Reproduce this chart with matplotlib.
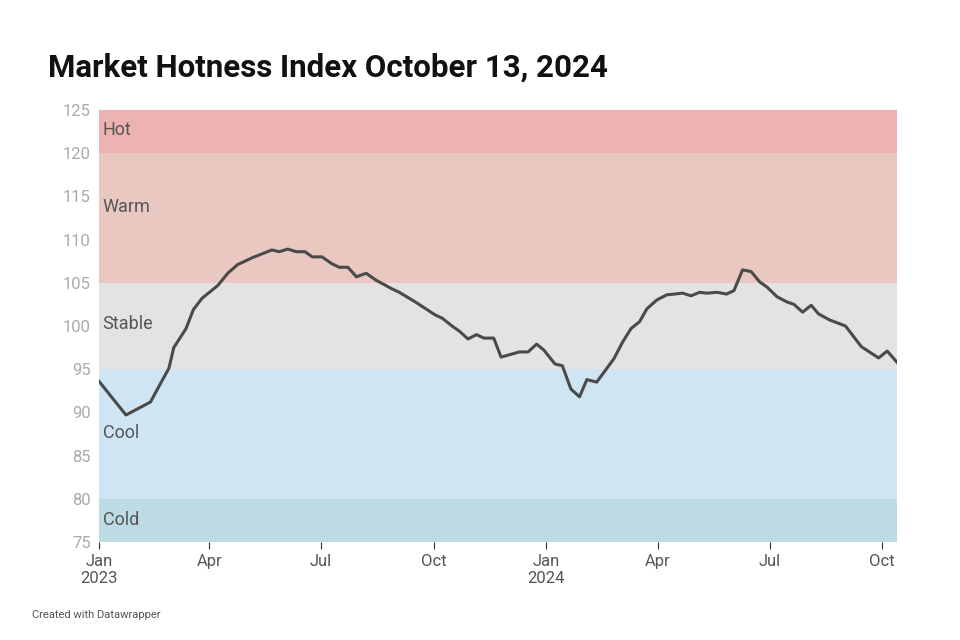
import matplotlib
matplotlib.use("Agg")
import matplotlib.pyplot as plt
import numpy as np

plt.rcParams["font.family"] = "Roboto"

# days since 2023-01-01 and index values
days = [0, 22, 42, 50, 57, 61, 71, 77, 84, 97, 105, 113, 125, 141, 147, 154, 161, 168,
        174, 182, 190, 196, 203, 210, 218, 226, 239, 245, 259, 274, 280, 288, 294, 301,
        308, 314, 322, 328, 343, 350, 357, 363, 372, 378, 385, 392, 398, 406, 420, 427,
        434, 441, 447, 455, 463, 476, 483, 490, 496, 504, 512, 518, 525, 532, 539, 545,
        553, 561, 567, 574, 581, 587, 596, 609, 616, 622, 636, 643, 651]
index = [93.6, 89.7, 91.2, 93.3, 95.1, 97.5, 99.7, 101.9, 103.2, 104.7, 106.1, 107.1,
         107.9, 108.8, 108.6, 108.9, 108.6, 108.6, 108.0, 108.0, 107.2, 106.8, 106.8,
         105.7, 106.1, 105.3, 104.3, 103.9, 102.7, 101.3, 100.9, 100.0, 99.4, 98.5, 99.0,
         98.6, 98.6, 96.4, 97.0, 97.0, 97.9, 97.2, 95.6, 95.4, 92.7, 91.8, 93.8, 93.5,
         96.2, 98.1, 99.7, 100.5, 102.0, 103.0, 103.6, 103.8, 103.5, 103.9, 103.8, 103.9,
         103.7, 104.1, 106.5, 106.3, 105.1, 104.5, 103.4, 102.8, 102.5, 101.6, 102.4,
         101.4, 100.7, 100.0, 98.7, 97.6, 96.3, 97.1, 95.8]

bands = [("Cold", 75, 80, "#bcdbe3"), ("Cool", 80, 95, "#cfe5f3"),
         ("Stable", 95, 105, "#e3e3e3"), ("Warm", 105, 120, "#e9c8c1"),
         ("Hot", 120, 125, "#ecb3b2")]
label_y = {"Cold": 77.5, "Cool": 87.6, "Stable": 100.2, "Warm": 113.8, "Hot": 122.7}

tick_labels = ["Jan\n2023", "Apr", "Jul", "Oct", "Jan\n2024", "Apr", "Jul", "Oct"]
tick_dates = ["2023-01-01", "2023-04-01", "2023-07-01", "2023-10-01",
              "2024-01-01", "2024-04-01", "2024-07-01", "2024-10-01"]

start = np.datetime64("2023-01-01")
dates = start + np.array(days).astype("timedelta64[D]")
x_end = np.datetime64("2024-10-13")

fig = plt.figure(figsize=(9.6, 6.4), dpi=100)
ax = fig.add_axes([99 / 960, 1 - 542 / 640, 798 / 960, 432 / 640])

for name, lo, hi, col in bands:
    ax.axhspan(lo, hi, color=col, lw=0, zorder=0)
    ax.text(start + np.timedelta64(3, "D"), label_y[name], name, fontsize=13,
            color="#555555", va="center", ha="left", zorder=2)

ax.plot(dates, index, color="#4a4a4a", lw=2.2, zorder=3)

ax.set_xlim(start, x_end)
ax.set_ylim(75, 125)
ax.set_yticks(range(75, 126, 5))
ax.set_xticks(np.array(tick_dates, dtype="datetime64[D]"))
ax.set_xticklabels(tick_labels)
for lbl in ax.get_xticklabels():
    lbl.set_horizontalalignment("center")
ax.tick_params(axis="y", length=0, labelsize=12, labelcolor="#aaaaaa", pad=6)
ax.tick_params(axis="x", length=5, color="#333333", labelsize=12, labelcolor="#555555")
for s in ax.spines.values():
    s.set_visible(False)

fig.text(48 / 960, 1 - 68 / 640, "Market Hotness Index October 13, 2024",
         fontsize=22.5, fontweight="bold", color="#111111", va="center")
fig.text(32 / 960, 1 - 615 / 640, "Created with Datawrapper", fontsize=8,
         color="#555555", va="center")

fig.savefig("out.png", dpi=100)
